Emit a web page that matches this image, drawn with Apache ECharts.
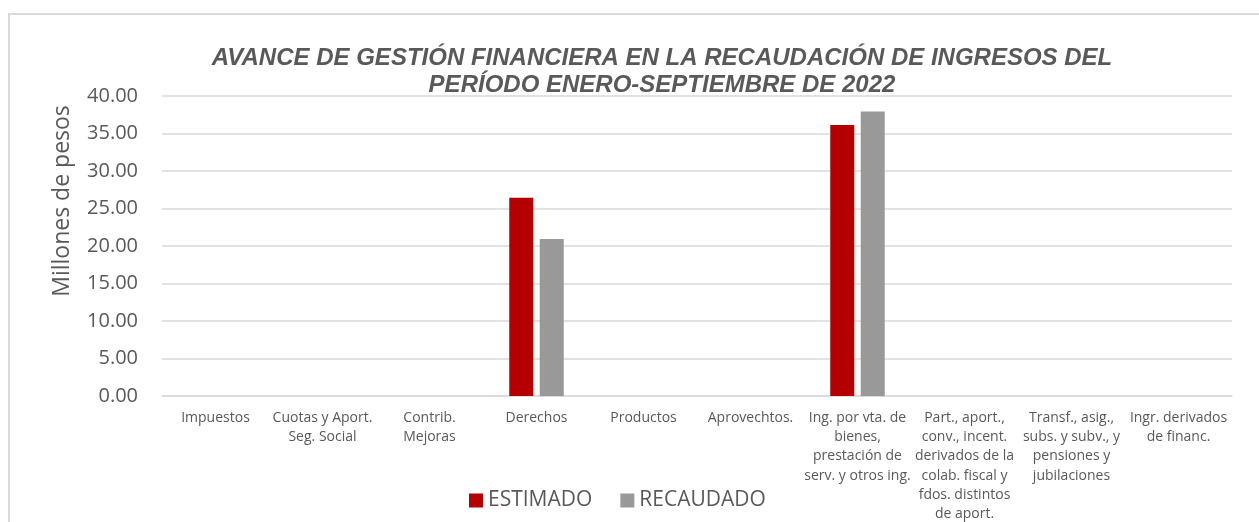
<!DOCTYPE html>
<html>
<head>
<meta charset="utf-8">
<script src="https://cdn.jsdelivr.net/npm/echarts@6/dist/echarts.min.js"></script>
<style>
html,body{margin:0;padding:0;background:#fff;}
#c{width:1259px;height:522px;}
</style>
</head>
<body>
<div id="c"></div>
<script>
const categories = [
  "Impuestos",
  "Cuotas y Aport.\nSeg. Social",
  "Contrib.\nMejoras",
  "Derechos",
  "Productos",
  "Aprovechtos.",
  "Ing. por vta. de\nbienes,\nprestación de\nserv. y otros ing.",
  "Part., aport.,\nconv., incent.\nderivados de la\ncolab. fiscal y\nfdos. distintos\nde aport.",
  "Transf., asig.,\nsubs. y subv., y\npensiones y\njubilaciones",
  "Ingr. derivados\nde financ."
];
const estimado  = [0, 0, 0, 26.45, 0, 0, 36.12, 0, 0, 0];
const recaudado = [0, 0, 0, 20.93, 0, 0, 37.94, 0, 0, 0];
const titleLines = [
  "AVANCE DE GESTIÓN FINANCIERA EN LA RECAUDACIÓN DE INGRESOS DEL",
  "PERÍODO ENERO-SEPTIEMBRE DE 2022"
];
const yAxisTitle = "Millones de pesos";

const chart = echarts.init(document.getElementById('c'));
chart.setOption({
  animation: false,
  backgroundColor: '#ffffff',
  title: {
    text: titleLines.join('\n'),
    left: 657, textAlign: 'center', top: 40,
    textStyle: {
      fontFamily: 'Liberation Sans, Arial, sans-serif',
      fontSize: 24, fontWeight: 'bold', fontStyle: 'italic',
      color: '#595959', lineHeight: 27
    }
  },
  graphic: [
    { type: 'rect', shape: { x: 9, y: 14, width: 1300, height: 600 },
      style: { fill: 'none', stroke: '#d9d9d9', lineWidth: 2 }, silent: true },
    { type: 'text', x: 62, y: 201, rotation: Math.PI / 2,
      style: { text: yAxisTitle, fontFamily: 'Open Sans, sans-serif', fontSize: 23,
        fill: '#595959', align: 'center', verticalAlign: 'middle' } }
  ],
  legend: {
    left: 464, top: 490, padding: [0, 5, 0, 5],
    itemWidth: 14, itemHeight: 14, itemGap: 28,
    icon: 'rect',
    textStyle: { fontFamily: 'Open Sans, sans-serif', fontSize: 21, color: '#595959' },
    data: ['ESTIMADO', 'RECAUDADO']
  },
  grid: { left: 162, right: 27, top: 96, bottom: 126, containLabel: false, outerBoundsMode: 'none' },
  xAxis: {
    type: 'category',
    data: categories,
    axisLine: { lineStyle: { color: '#d9d9d9', width: 1.5 } },
    axisTick: { show: false },
    axisLabel: {
      interval: 0, margin: 12,
      fontFamily: 'Open Sans, sans-serif', fontSize: 14, color: '#595959',
      lineHeight: 19.3, align: 'center', verticalAlign: 'top'
    }
  },
  yAxis: {
    type: 'value', min: 0, max: 40, interval: 5,
    axisLine: { show: false },
    axisTick: { show: false },
    splitLine: { lineStyle: { color: '#d9d9d9', width: 1.5 } },
    axisLabel: {
      margin: 24,
      fontFamily: 'Open Sans, sans-serif', fontSize: 20, color: '#595959',
      formatter: v => v.toFixed(2)
    }
  },
  series: [
    { name: 'ESTIMADO', type: 'bar', data: estimado, barWidth: 24, barGap: '27%',
      itemStyle: { color: '#b40000' } },
    { name: 'RECAUDADO', type: 'bar', data: recaudado, barWidth: 24,
      itemStyle: { color: '#999999' } }
  ]
});
</script>
</body>
</html>
